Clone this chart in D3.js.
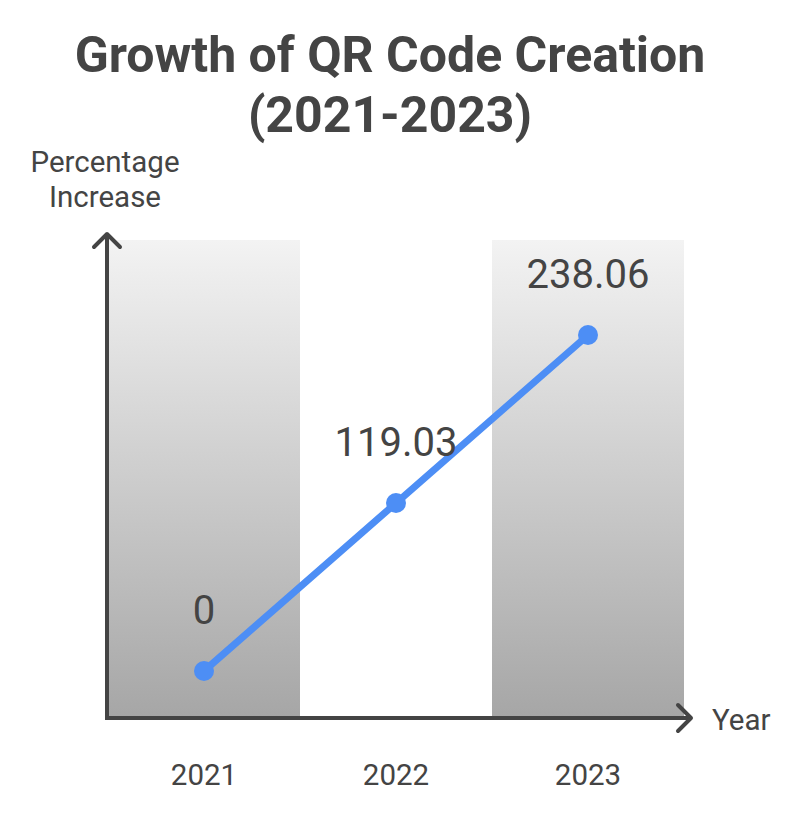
<!DOCTYPE html>
<html><head><meta charset="utf-8">
<script src="https://cdn.jsdelivr.net/npm/d3@7"></script>
<style>html,body{margin:0;padding:0;background:#fff}</style>
</head><body>
<svg id="c" width="804" height="824"></svg>
<script>
const years = ["2021", "2022", "2023"];
const values = [0, 119.03, 238.06];
const valueLabels = ["0", "119.03", "238.06"];
const shadedBands = ["2021", "2023"];
const titleLines = ["Growth of QR Code Creation", "(2021-2023)"];
const yTitleLines = ["Percentage", "Increase"];
const xTitle = "Year";

(function () {
const svg = d3.select("#c");
const font = "Roboto, 'Noto Sans', sans-serif";
const textColor = "#444";
const pLeft = 108, pRight = 684, pTop = 240, pBottom = 718;

const x = d3.scaleBand().domain(years).range([pLeft, pRight]).padding(0);
const y = d3.scaleLinear().domain([-33.3, 305.4]).range([pBottom, pTop]);

const defs = svg.append("defs");
const g = defs.append("linearGradient").attr("id", "bandGrad").attr("x1", 0).attr("y1", 0).attr("x2", 0).attr("y2", 1);
g.append("stop").attr("offset", "0%").attr("stop-color", "#f3f3f3");
g.append("stop").attr("offset", "100%").attr("stop-color", "#a6a6a6");

svg.selectAll("rect.band").data(shadedBands).join("rect")
  .attr("class", "band")
  .attr("x", d => x(d)).attr("y", pTop)
  .attr("width", x.bandwidth()).attr("height", pBottom - pTop)
  .attr("fill", "url(#bandGrad)");

// Title
svg.append("text").attr("text-anchor", "middle")
  .attr("font-family", font).attr("font-weight", "bold").attr("font-size", 50).attr("fill", textColor)
  .selectAll("tspan").data(titleLines).join("tspan")
  .attr("x", 390).attr("y", (d, i) => 72 + i * 60).text(d => d);

// Y title
svg.append("text").attr("text-anchor", "middle")
  .attr("font-family", font).attr("font-size", 29.5).attr("fill", textColor)
  .selectAll("tspan").data(yTitleLines).join("tspan")
  .attr("x", 105).attr("y", (d, i) => 172 + i * 35).text(d => d);

// Axes
const axisColor = "#444";
svg.append("line").attr("x1", pLeft - 1).attr("y1", pBottom).attr("x2", pLeft - 1).attr("y2", 234)
  .attr("stroke", axisColor).attr("stroke-width", 4);
svg.append("path").attr("d", `M${pLeft - 14},${247} L${pLeft - 1},${234} L${pLeft + 12},${247}`)
  .attr("fill", "none").attr("stroke", axisColor).attr("stroke-width", 4).attr("stroke-linecap", "round").attr("stroke-linejoin", "round");
svg.append("line").attr("x1", pLeft - 3).attr("y1", pBottom).attr("x2", 690).attr("y2", pBottom)
  .attr("stroke", axisColor).attr("stroke-width", 4);
svg.append("path").attr("d", `M${678},${705} L${691},${718} L${678},${731}`)
  .attr("fill", "none").attr("stroke", axisColor).attr("stroke-width", 4).attr("stroke-linecap", "round").attr("stroke-linejoin", "round");

svg.append("text").attr("x", 712).attr("y", 730).attr("font-family", font).attr("font-size", 29.5)
  .attr("fill", textColor).text(xTitle);

// X tick labels
const xAxis = d3.axisBottom(x).tickSize(0).tickPadding(0);
const ax = svg.append("g").attr("transform", `translate(0,${pBottom + 46})`).call(xAxis);
ax.select(".domain").remove();
ax.selectAll("text").attr("font-family", font).attr("font-size", 29.5).attr("fill", textColor);

// Line
const cx = d => x(d) + x.bandwidth() / 2;
const line = d3.line().x((d, i) => cx(years[i])).y(d => y(d));
svg.append("path").datum(values).attr("d", line)
  .attr("fill", "none").attr("stroke", "#4d8ef5").attr("stroke-width", 7).attr("stroke-linecap", "round");
svg.selectAll("circle.pt").data(values).join("circle")
  .attr("class", "pt").attr("cx", (d, i) => cx(years[i])).attr("cy", d => y(d)).attr("r", 10)
  .attr("fill", "#4d8ef5");

svg.selectAll("text.vl").data(values).join("text")
  .attr("class", "vl").attr("x", (d, i) => cx(years[i])).attr("y", d => y(d) - 47)
  .attr("text-anchor", "middle").attr("font-family", font).attr("font-size", 40).attr("fill", textColor)
  .text((d, i) => valueLabels[i]);
})();
</script>
</body></html>
